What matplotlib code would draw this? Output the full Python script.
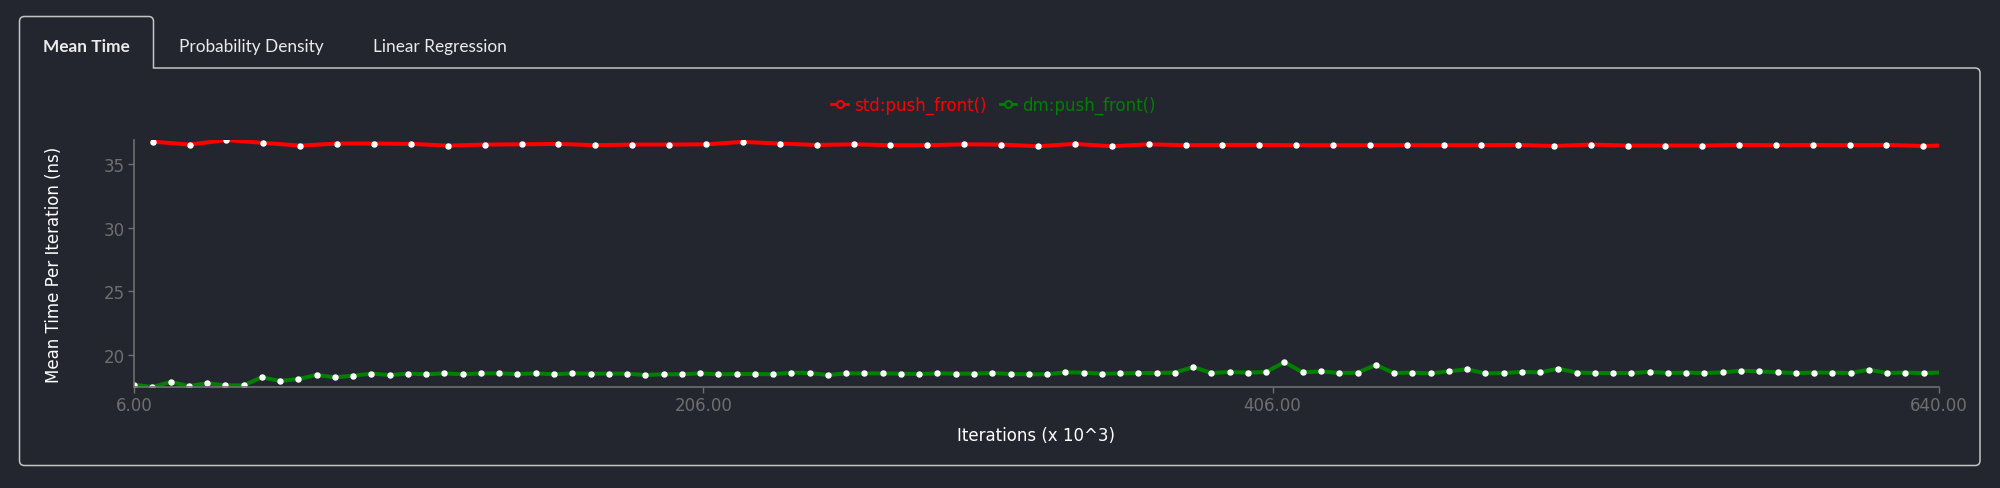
import numpy as np
import matplotlib
matplotlib.use("Agg")
import matplotlib.pyplot as plt
from matplotlib.lines import Line2D
from matplotlib.path import Path
from matplotlib.patches import PathPatch

W, H = 2000, 489
BG = "#23262f"
GREY = "#6f6f6f"

tabs = ["Mean Time", "Probability Density", "Linear Regression"]
series_names = ["std:push_front()", "dm:push_front()"]
x_ticks = [6, 206, 406, 640]
y_ticks = [20, 25, 30, 35]

# iterations (x 10^3); last sample sits at the end of the run
std_iters = np.append(np.linspace(12.57, 634.6, 49), 640)
dm_iters = np.append(np.linspace(6, 634.7, 99), 640)

std_time = [
    36.75, 36.52, 36.88, 36.65, 36.44, 36.60, 36.60, 36.57, 36.44, 36.52,
    36.54, 36.57, 36.47, 36.52, 36.52, 36.54, 36.73, 36.60, 36.49, 36.54,
    36.47, 36.47, 36.54, 36.52, 36.39, 36.57, 36.39, 36.54, 36.47, 36.49,
    36.49, 36.47, 36.47, 36.47, 36.47, 36.47, 36.47, 36.49, 36.41, 36.52,
    36.44, 36.44, 36.44, 36.49, 36.47, 36.49, 36.47, 36.49, 36.41, 36.44,
]
dm_time = [
    17.64, 17.46, 17.85, 17.54, 17.75, 17.59, 17.59, 18.22, 17.93, 18.09,
    18.40, 18.22, 18.35, 18.51, 18.40, 18.51, 18.46, 18.53, 18.46, 18.53,
    18.53, 18.48, 18.53, 18.46, 18.53, 18.51, 18.51, 18.51, 18.40, 18.46,
    18.46, 18.53, 18.46, 18.48, 18.48, 18.46, 18.59, 18.56, 18.40, 18.53,
    18.53, 18.53, 18.51, 18.48, 18.53, 18.51, 18.51, 18.56, 18.48, 18.46,
    18.46, 18.61, 18.59, 18.51, 18.53, 18.56, 18.56, 18.59, 19.03, 18.56,
    18.64, 18.59, 18.64, 19.42, 18.61, 18.69, 18.56, 18.59, 19.19, 18.56,
    18.59, 18.53, 18.69, 18.85, 18.53, 18.56, 18.64, 18.61, 18.90, 18.59,
    18.56, 18.56, 18.56, 18.64, 18.56, 18.59, 18.56, 18.61, 18.74, 18.69,
    18.61, 18.56, 18.59, 18.59, 18.56, 18.82, 18.56, 18.59, 18.56, 18.59,
]


def px(x, y):
    return x / W, 1 - y / H


fig = plt.figure(figsize=(W / 100, H / 100), dpi=100, facecolor=BG)

# tab panel outline
L, R, T, TB, B, TR, r = 19.5, 1980, 17.5, 69, 466.5, 153.5, 5
verts = [
    (L, B - r), (L, T + r), (L, T), (L + r, T), (TR - r, T), (TR, T), (TR, T + r),
    (TR, TB), (R - r, TB), (R, TB), (R, TB + r), (R, B - r), (R, B), (R - r, B),
    (L + r, B), (L, B), (L, B - r),
]
codes = [Path.MOVETO, Path.LINETO, Path.CURVE3, Path.CURVE3, Path.LINETO,
         Path.CURVE3, Path.CURVE3, Path.LINETO, Path.LINETO, Path.CURVE3,
         Path.CURVE3, Path.LINETO, Path.CURVE3, Path.CURVE3, Path.LINETO,
         Path.CURVE3, Path.CURVE3]
panel = PathPatch(Path([px(*v) for v in verts], codes), transform=fig.transFigure,
                  facecolor="none", edgecolor="#c4c4c4", lw=1.1)
fig.add_artist(panel)

tab_x = [86.5, 251.3, 440]
for i, (name, tx) in enumerate(zip(tabs, tab_x)):
    fig.text(*px(tx, 51.7), name, ha="center", va="baseline", family="Lato",
             fontsize=12.4, color="#ebebeb", weight="bold" if i == 0 else "normal")

ax = fig.add_axes([134 / W, 1 - 388 / H, (1938.7 - 134) / W, (388 - 141) / H])
ax.set_facecolor(BG)

ax.plot(std_iters, std_time, color="#ff0000", lw=2.9, marker="o", ms=3.6,
        mfc="white", mec="white", markevery=slice(0, len(std_time) - 1))
ax.plot(dm_iters, dm_time, color="#008000", lw=2.9, marker="o", ms=3.6,
        mfc="white", mec="white", markevery=slice(0, len(dm_time) - 1))

ax.set_xlim(x_ticks[0], x_ticks[-1])
ax.set_ylim(min(dm_time), max(std_time))
ax.set_xticks(x_ticks)
ax.set_xticklabels([f"{v:.2f}" for v in x_ticks])
ax.set_yticks(y_ticks)

for s in ["top", "right"]:
    ax.spines[s].set_visible(False)
for s in ["left", "bottom"]:
    ax.spines[s].set_color(GREY)
    ax.spines[s].set_linewidth(1.2)
ax.tick_params(colors=GREY, labelsize=12, length=4.3, width=1, pad=2.5)

ax.set_xlabel("Iterations (x 10^3)", color="white", fontsize=12)
ax.xaxis.set_label_coords(0.5, -0.158)
ax.set_ylabel("Mean Time Per Iteration (ns)", color="white", fontsize=12)
ax.yaxis.set_label_coords(-0.0393, 0.5)

handles = [
    Line2D([], [], color="#ff0000", lw=2, marker="o", ms=5, mfc=BG, mec="#ff0000", mew=1.5),
    Line2D([], [], color="#008000", lw=2, marker="o", ms=5, mfc=BG, mec="#008000", mew=1.5),
]
fig.legend(handles, series_names, loc="center", bbox_to_anchor=px(993.5, 106),
           ncol=2, frameon=False, fontsize=12, handlelength=1.0, handletextpad=0.35,
           columnspacing=0.8, labelcolor="linecolor")

fig.savefig("out.png", dpi=100, facecolor=BG)
